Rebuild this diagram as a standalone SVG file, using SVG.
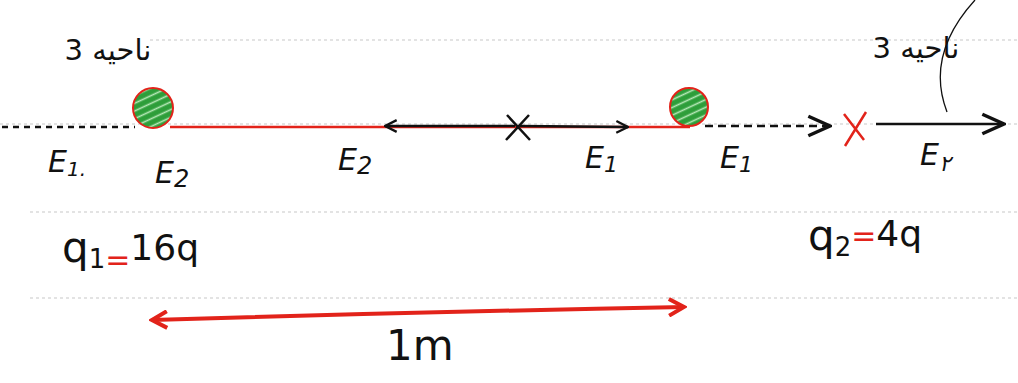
<svg xmlns="http://www.w3.org/2000/svg" width="1018" height="383" viewBox="0 0 1018 383">
<defs>
<pattern id="hatch" patternUnits="userSpaceOnUse" width="7" height="7" patternTransform="rotate(-25)">
<rect width="7" height="7" fill="#2e9e3a"/>
<line x1="0" y1="3.5" x2="7" y2="3.5" stroke="#b8e8b8" stroke-width="1.6"/>
</pattern>
<marker id="open" viewBox="0 0 12 12" refX="11" refY="6" markerWidth="14" markerHeight="14" markerUnits="userSpaceOnUse" orient="auto-start-reverse">
<path d="M1 1 L11 6 L1 11" fill="none" stroke="#111" stroke-width="2"/>
</marker>
<marker id="openBig" viewBox="0 0 12 12" refX="11" refY="6" markerWidth="26" markerHeight="26" markerUnits="userSpaceOnUse" orient="auto">
<path d="M1 1.5 L11 6 L1 10.5" fill="none" stroke="#111" stroke-width="1.6"/>
</marker>
<marker id="red" viewBox="0 0 12 12" refX="10" refY="6" markerWidth="20" markerHeight="20" markerUnits="userSpaceOnUse" orient="auto-start-reverse">
<path d="M1 1 L10 6 L1 11" fill="none" stroke="#e2231a" stroke-width="2.4"/>
</marker>
</defs>
<style>
.rule{stroke:#c8c8c8;stroke-width:1.2;stroke-dasharray:3 3}
.ink{fill:#111;font-family:"DejaVu Sans",sans-serif}
.e{font-size:30px;font-style:italic}
.q{font-size:42px}
.fa{font-size:29px}
.redeq{fill:#e2231a}
</style>
<rect width="1018" height="383" fill="#fff"/>
<g id="rules">
<line class="rule" x1="150" y1="40" x2="1018" y2="40"/>
<line class="rule" x1="0" y1="124" x2="1018" y2="124"/>
<line class="rule" x1="30" y1="212" x2="1018" y2="212"/>
<line class="rule" x1="30" y1="298" x2="1018" y2="298"/>
</g>
<g id="connectors" fill="none">
<line x1="2" y1="127" x2="135" y2="127" stroke="#111" stroke-width="2.5" stroke-dasharray="6 5"/>
<path d="M170 127 L690 127" stroke="#e2231a" stroke-width="2.5"/>
<line x1="515" y1="126" x2="385" y2="126" stroke="#111" stroke-width="2.5" marker-end="url(#open)"/>
<line x1="520" y1="126" x2="628" y2="127" stroke="#111" stroke-width="2.5" marker-end="url(#open)"/>
<line x1="705" y1="126" x2="830" y2="126" stroke="#111" stroke-width="2.5" stroke-dasharray="8 5" marker-end="url(#openBig)"/>
<line x1="876" y1="124" x2="1004" y2="124" stroke="#111" stroke-width="2.5" marker-end="url(#openBig)"/>
<path d="M975 0 Q925 55 947 112" stroke="#111" stroke-width="1.3"/>
<path d="M152 320 Q420 312 684 307" stroke="#e2231a" stroke-width="4" marker-start="url(#red)" marker-end="url(#red)"/>
</g>
<g id="q1">
<circle cx="153" cy="108" r="20" fill="url(#hatch)" stroke="#e2231a" stroke-width="2"/>
</g>
<g id="q2">
<circle cx="689" cy="107" r="19" fill="url(#hatch)" stroke="#e2231a" stroke-width="2"/>
</g>
<g id="pointMid">
<path d="M507 115 L530 140 M529 115 L506 140" stroke="#111" stroke-width="2.5" fill="none"/>
</g>
<g id="pointRight">
<path d="M844 114 L864 140 M866 112 L845 146" stroke="#e2231a" stroke-width="2.5" fill="none"/>
</g>
<g id="labels">
<text class="ink fa" x="108" y="60" text-anchor="middle" direction="rtl">ناحیه 3</text>
<text class="ink fa" x="916" y="58" text-anchor="middle" direction="rtl">ناحیه 3</text>
<text class="ink e" x="48" y="172">E<tspan font-size="20" dy="4">1.</tspan></text>
<text class="ink e" x="155" y="183">E<tspan font-size="24" dy="4">2</tspan></text>
<text class="ink e" x="338" y="170">E<tspan font-size="24" dy="4">2</tspan></text>
<text class="ink e" x="585" y="168">E<tspan font-size="22" dy="4">1</tspan></text>
<text class="ink e" x="720" y="168">E<tspan font-size="22" dy="4">1</tspan></text>
<text class="ink e" x="920" y="165">E<tspan font-size="22" dy="6">۲</tspan></text>
<text class="ink q" x="62" y="262">q<tspan font-size="26" dy="6">1</tspan><tspan class="redeq" font-size="30" dy="2">=</tspan><tspan dy="-10" font-size="36">16q</tspan></text>
<text class="ink q" x="808" y="250">q<tspan font-size="26" dy="6">2</tspan><tspan class="redeq" font-size="30" dy="-10">=</tspan><tspan dy="0" font-size="36">4q</tspan></text>
<text class="ink q" x="386" y="360" font-size="34">1m</text>
</g>
</svg>
